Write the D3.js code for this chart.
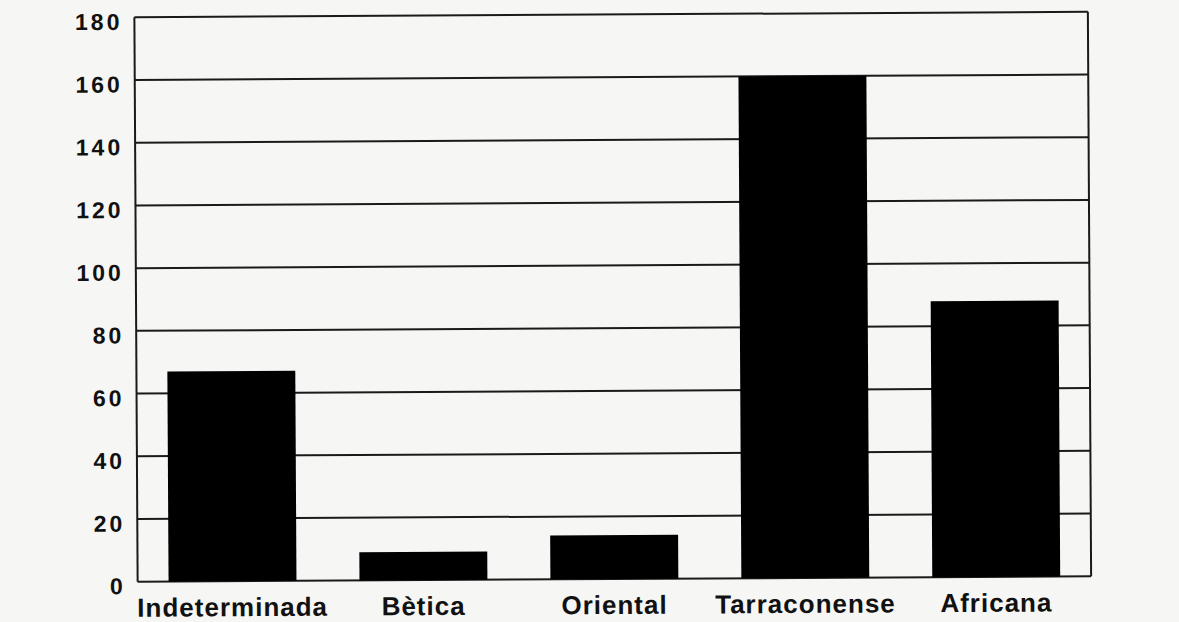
<!DOCTYPE html>
<html>
<head>
<meta charset="utf-8">
<script src="https://cdn.jsdelivr.net/npm/d3@7"></script>
<style>
	html, body { margin: 0; padding: 0; background: #f6f6f4; }
	#vis { width: 1179px; height: 622px; }
	text { font-family: "Liberation Sans", Arial, sans-serif; font-weight: bold; fill: #111; }
</style>
</head>
<body>
<div id="vis"></div>
<script>
var categories = ["Indeterminada", "Bètica", "Oriental", "Tarraconense", "Africana"];
var values = [67, 9, 14, 160, 88];
var yTicks = [0, 20, 40, 60, 80, 100, 120, 140, 160, 180];

var w = 1179;
var h = 622;
// "top" is taken by window.top, so the plot edges get their own names
var plotLeft = 136, plotRight = 1089.5, plotTop = 14.5, plotBottom = 579;

var container = document.getElementById("vis");

var svg = d3.select(container).append("svg")
.attr("width", w)
.attr("height", h);

//the scanned page sits a little crooked, so the whole chart gets a small tilt
var g = svg.append("g")
.attr("transform", "rotate(-0.33," + ((plotLeft + plotRight) / 2) + "," + ((plotTop + plotBottom) / 2) + ")");

var x = d3.scaleBand()
.domain(categories)
.range([plotLeft, plotRight])
.paddingInner(0.33)
.paddingOuter(0.162);

var y = d3.scaleLinear()
.domain([0, 180])
.range([plotBottom, plotTop]);

//gridlines go first so the bars cover them
var grid = g.append("g");

grid.selectAll(".grid-line")
.data(yTicks)
.enter()
.append("line")
.attr("class", "grid-line")
.attr("x1", plotLeft)
.attr("x2", plotRight)
.attr("y1", function (d) { return y(d); })
.attr("y2", function (d) { return y(d); })
.attr("stroke", "#1a1a1a")
.attr("stroke-width", 2);

g.selectAll(".bar")
.data(values)
.enter()
.append("rect")
.attr("class", "bar")
.attr("x", function (d, i) { return x(categories[i]); })
.attr("y", function (d) { return y(d); })
.attr("width", x.bandwidth())
.attr("height", function (d) { return y(0) - y(d); })
.attr("fill", "#000");

// frame: left axis and right border
g.append("line")
.attr("x1", plotLeft).attr("x2", plotLeft)
.attr("y1", y(180)).attr("y2", y(0))
.attr("stroke", "#1a1a1a")
.attr("stroke-width", 2);

g.append("line")
.attr("x1", plotRight).attr("x2", plotRight)
.attr("y1", y(180)).attr("y2", y(0))
.attr("stroke", "#1a1a1a")
.attr("stroke-width", 2);

var yAxis = g.append("g")
.attr("transform", "translate(" + plotLeft + ",0)")
.call(d3.axisLeft(y).tickValues(yTicks).tickSize(0).tickPadding(12));

yAxis.select(".domain").remove();

yAxis.selectAll("text")
.attr("dy", "0.52em")
.style("font-size", "23px")
.style("letter-spacing", "3px")
.style("fill", "#111");

var xAxis = g.append("g")
.attr("transform", "translate(0," + y(0) + ")")
.call(d3.axisBottom(x).tickSize(0).tickPadding(0));

xAxis.select(".domain").remove();

xAxis.selectAll("text")
.attr("y", 35)
.attr("dy", 0)
.style("font-size", "26px")
.style("letter-spacing", "1px")
.style("fill", "#111");
</script>
</body>
</html>
